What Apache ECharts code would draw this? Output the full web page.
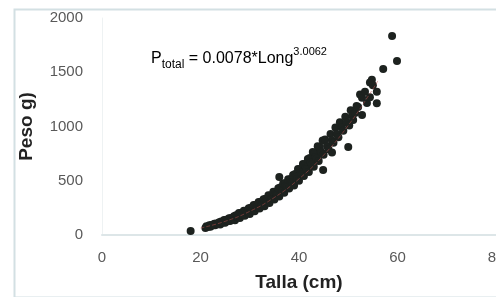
<!DOCTYPE html>
<html>
<head>
<meta charset="utf-8">
<script src="https://cdn.jsdelivr.net/npm/echarts@6/dist/echarts.min.js"></script>
<style>
  html, body { margin: 0; padding: 0; background: #fff; }
  #chart { width: 496px; height: 297px; }
</style>
</head>
<body>
<div id="chart"></div>
<script>
// talla (cm) y peso (g)
var talla = [
  18.0,
  21.0, 21.2, 21.4, 21.6, 21.8, 22.0, 22.2, 22.4, 22.6, 22.8, 23.0, 23.2, 23.4, 23.6, 23.8,
  24.0, 24.2, 24.4, 24.6, 24.8, 25.0, 25.2, 25.4, 25.6, 25.8, 26.0, 26.2, 26.4, 26.6, 26.8,
  27.0, 27.2, 27.4, 27.6, 27.8, 28.0, 28.2, 28.4, 28.6, 28.8, 29.0, 29.2, 29.4, 29.6, 29.8,
  30.0, 30.2, 30.4, 30.6, 30.8, 31.0, 31.2, 31.4, 31.6, 31.8, 32.0, 32.2, 32.4, 32.6, 32.8,
  33.0, 33.2, 33.4, 33.6, 33.8, 34.0, 34.2, 34.4, 34.6, 34.8, 35.0, 35.2, 35.4, 35.6, 35.8,
  36.0, 36.2, 36.4, 36.6, 36.8, 37.0, 37.2, 37.4, 37.6, 37.8, 38.0, 38.2, 38.4, 38.6, 38.8,
  39.0, 39.2, 39.4, 39.6, 39.8, 40.0, 40.2, 40.4, 40.6, 40.8, 41.0, 41.2, 41.4, 41.6, 41.8,
  42.0, 42.2, 42.4, 42.6, 42.8, 43.0, 43.2, 43.4, 43.6, 43.8, 44.0, 44.2, 44.4, 44.6, 44.8,
  45.0, 45.3, 45.7, 46.0, 46.4, 46.7, 46.7, 47.0, 47.4, 47.7, 48.0, 48.3, 48.7, 49.0, 49.4, 49.7,
  50.2, 50.5, 50.8, 51.0, 51.4, 51.7, 52.0, 52.4, 52.8, 52.8, 53.4, 53.8, 54.4, 54.4, 54.8, 55.0,
  55.8, 55.8,
  36.0, 44.9, 50.0, 57.1, 58.9, 59.9
];
var peso = [
  38,
  64, 80, 77, 76, 91, 76, 93, 89, 89, 103, 89, 106, 103, 102, 117,
  97, 125, 117, 115, 139, 112, 140, 132, 131, 155, 128, 157, 149, 148, 172,
  136, 182, 168, 163, 203, 156, 202, 188, 184, 224, 177, 224, 210, 206, 246,
  194, 252, 234, 227, 277, 218, 276, 258, 253, 303, 244, 303, 285, 280, 330,
  266, 335, 314, 306, 366, 296, 365, 345, 337, 398, 328, 398, 378, 370, 431,
  354, 438, 412, 403, 477, 390, 475, 449, 440, 514, 428, 513, 488, 479, 554,
  456, 563, 529, 517, 609, 499, 606, 573, 561, 654, 544, 652, 619, 608, 701,
  580, 709, 668, 652, 765, 630, 759, 719, 703, 817, 682, 812, 772, 757, 871,
  740, 880, 820, 790, 930, 870, 760, 850, 990, 930, 900, 1040, 990, 960, 1090, 1040,
  1010, 1150, 1100, 1060, 1125, 1190, 1180, 1296, 1105, 1265, 1320, 1216, 1270, 1406, 1430, 1380,
  1320, 1215,
  535, 600, 811, 1530, 1834, 1604
];
// linea de tendencia
var tendL = [20, 25, 30, 35, 40, 45, 50, 55, 56];
var tendP = [64, 126, 218, 346, 517, 736, 1010, 1345, 1420];

var puntos = talla.map(function (l, i) { return [l, peso[i]]; });
var tendencia = tendL.map(function (l, i) { return [l, tendP[i]]; });

var chart = echarts.init(document.getElementById('chart'));
chart.setOption({
  animation: false,
  grid: { left: 102, right: 0, top: 18, bottom: 62, outerBoundsMode: 'none' },
  xAxis: {
    type: 'value', min: 0, max: 80, interval: 20,
    name: 'Talla (cm)', nameLocation: 'middle', nameGap: 38,
    nameTextStyle: { fontFamily: 'Liberation Sans', fontSize: 19, fontWeight: 'bold', color: '#222' },
    splitLine: { show: false },
    axisTick: { show: false },
    axisLine: { lineStyle: { color: '#dde6e8', width: 2 } },
    axisLabel: { fontFamily: 'Liberation Sans', fontSize: 15, color: '#595959', margin: 15 }
  },
  yAxis: {
    type: 'value', min: 0, max: 2000, interval: 500,
    name: 'Peso g)', nameLocation: 'middle', nameGap: 66,
    nameTextStyle: { fontFamily: 'Liberation Sans', fontSize: 19, fontWeight: 'bold', color: '#222' },
    splitLine: { show: false },
    axisTick: { show: false },
    axisLine: { show: true, lineStyle: { color: '#eef2f3', width: 1 } },
    axisLabel: {
      fontFamily: 'Liberation Sans', fontSize: 15, color: '#595959', margin: 19,
      formatter: function (v) { return String(v); }
    }
  },
  graphic: [
    {
      type: 'rect', left: 12, top: 7, silent: true,
      shape: { width: 490, height: 288 },
      style: { fill: 'none', stroke: '#d3e0e3', lineWidth: 2 }
    },
    {
      type: 'text', left: 151, top: 46,
      style: {
        text: '{a|P}{sub|total}{a| = 0.0078*Long}{sup|3.0062}',
        rich: {
          a: { fontFamily: 'Liberation Sans', fontSize: 16, color: '#333', verticalAlign: 'middle', lineHeight: 25 },
          sub: { fontFamily: 'Liberation Sans', fontSize: 12, color: '#333', verticalAlign: 'bottom', lineHeight: 25 },
          sup: { fontFamily: 'Liberation Sans', fontSize: 11, color: '#333', verticalAlign: 'top', lineHeight: 25 }
        }
      }
    }
  ],
  series: [
    {
      type: 'scatter', data: puntos, symbolSize: 8,
      itemStyle: { color: '#1d221f', opacity: 1 }
    },
    {
      type: 'line', data: tendencia, smooth: true, showSymbol: false,
      lineStyle: { color: '#c0504d', width: 1, type: 'dashed', opacity: 0.5 },
      z: 3
    }
  ]
});
</script>
</body>
</html>
